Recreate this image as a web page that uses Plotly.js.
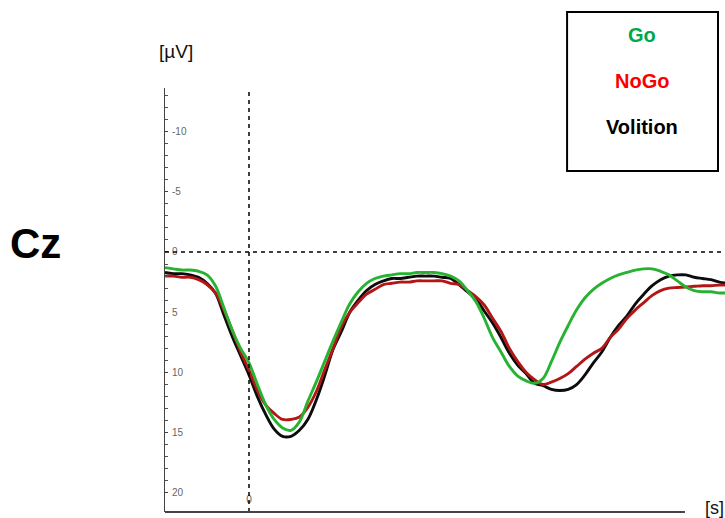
<!DOCTYPE html>
<html>
<head>
<meta charset="utf-8">
<script src="https://cdn.plot.ly/plotly-3.0.1.min.js"></script>
<style>html,body{margin:0;padding:0;background:#fff;}#chart{width:725px;height:518px;}</style>
</head>
<body>
<div id="chart"></div>
<script>
// time in seconds
var time = [-0.20,-0.18,-0.16,-0.14,-0.12,-0.10,-0.08,-0.06,-0.04,-0.02,
  0.00,0.02,0.04,0.06,0.08,0.10,0.12,0.14,0.16,0.18,
  0.20,0.22,0.24,0.26,0.28,0.30,0.32,0.34,0.36,0.38,
  0.40,0.42,0.44,0.46,0.48,0.50,0.52,0.54,0.56,0.58,
  0.60,0.62,0.64,0.66,0.68,0.70,0.72,0.74,0.76,0.78,
  0.80,0.82,0.84,0.86,0.88,0.90,0.92,0.94,0.96,0.98,
  1.00,1.02,1.04,1.06,1.08,1.10,1.12,1.14];

// amplitude in µV (positive plotted downward)
var goValues = [1.3,1.4,1.5,1.5,1.6,1.9,2.8,4.6,6.5,8.0,
  9.2,11.0,12.7,13.9,14.6,14.8,14.1,12.4,10.8,9.1,
  7.4,5.8,4.3,3.3,2.6,2.2,2.0,1.9,1.8,1.8,
  1.7,1.7,1.7,1.8,2.0,2.4,3.2,4.1,5.5,7.1,
  8.3,9.5,10.3,10.7,10.9,10.5,9.1,7.5,6.1,4.8,
  3.8,3.1,2.6,2.2,1.9,1.7,1.5,1.4,1.4,1.6,
  1.9,2.4,2.9,3.2,3.3,3.3,3.4,3.4];

var nogoValues = [2.0,2.0,2.1,2.1,2.3,2.7,3.4,4.8,6.5,8.3,
  9.8,11.5,12.7,13.4,13.9,13.9,13.7,12.9,11.6,9.8,
  8.0,6.2,5.0,4.2,3.5,3.1,2.7,2.6,2.5,2.5,
  2.4,2.4,2.4,2.4,2.6,2.7,3.2,3.7,4.4,5.5,
  6.6,8.0,9.1,10.0,10.6,11.0,10.8,10.5,10.1,9.5,
  8.9,8.4,8.0,7.1,6.4,5.5,4.8,4.2,3.6,3.2,
  3.0,2.95,2.9,2.85,2.8,2.8,2.75,2.75];

var volitionValues = [1.7,1.8,1.8,1.9,2.1,2.6,3.4,5.2,7.0,8.6,
  10.2,12.0,13.5,14.7,15.3,15.3,14.8,13.9,12.3,10.3,
  8.1,6.6,5.0,4.0,3.2,2.7,2.4,2.2,2.2,2.1,
  2.0,2.0,2.0,2.1,2.2,2.7,3.3,3.9,4.9,5.9,
  7.1,8.4,9.4,10.1,10.9,11.1,11.4,11.5,11.4,11.0,
  10.2,9.2,8.3,7.1,6.1,5.3,4.3,3.5,2.8,2.3,
  2.0,1.9,1.9,2.1,2.2,2.3,2.5,2.6];

var yTickVals = [-10,-5,0,5,10,15,20];
var yTickText = ['-10','-5','0','5','10','15','20'];
var xTickVals = [0];
var xTickText = ['0'];
var seriesNames = ['Go','NoGo','Volition'];

var curveColors = {Go:'rgb(40,178,50)', NoGo:'rgb(178,22,22)', Volition:'rgb(12,12,12)'};
var labelColors = {Go:'rgb(0,168,76)', NoGo:'rgb(250,0,0)', Volition:'rgb(0,0,0)'};

function trace(name, vals){
  return {x: time, y: vals, type:'scatter', mode:'lines', name:name,
    line:{color:curveColors[name], width:2.9, shape:'spline', smoothing:1.0},
    showlegend:false, hoverinfo:'skip'};
}
var data = [trace('Volition', volitionValues), trace('NoGo', nogoValues), trace('Go', goValues)];

var xMin = -0.2, xMax = -0.2 + 560/420;
var yTop = -13.61, yBottom = 21.58;
var axisEnd = 1.038;

var annotations = [
  {text:'[µV]', xref:'paper', yref:'paper', x:0.0196, y:1.085, xanchor:'center', yanchor:'middle', showarrow:false,
   font:{family:'Liberation Sans, Arial', size:19, color:'#111'}},
  {text:'<b>Cz</b>', xref:'paper', yref:'paper', x:-0.2804, y:0.634, xanchor:'left', yanchor:'middle', showarrow:false,
   font:{family:'Liberation Sans, Arial', size:42, color:'#000'}},
  {text:'[s]', xref:'paper', yref:'paper', x:0.961, y:0.0094, xanchor:'left', yanchor:'middle', showarrow:false,
   font:{family:'Liberation Sans, Arial', size:18, color:'#111'}}
];
var legendY = [1.125, 1.0165, 0.908];
seriesNames.forEach(function(n, i){
  annotations.push({text:'<b>'+n+'</b>', xref:'paper', yref:'paper', x:0.852, y:legendY[i],
    xanchor:'center', yanchor:'middle', showarrow:false,
    font:{family:'Liberation Sans, Arial', size:20, color:labelColors[n]}});
});

var layout = {
  width:725, height:518, autosize:false,
  margin:{l:165, r:0, t:88, b:6, pad:0},
  paper_bgcolor:'#fff', plot_bgcolor:'#fff',
  showlegend:false,
  xaxis:{range:[xMin, xMax], showgrid:false, zeroline:false, showline:false,
    tickvals:xTickVals, ticktext:xTickText, ticks:'', ticklabelposition:'inside',
    ticklabelstandoff:4,
    tickfont:{family:'Liberation Sans, Arial', size:10, color:'#555'}, fixedrange:true},
  yaxis:{range:[yBottom, yTop], showgrid:false, zeroline:false,
    showline:true, linecolor:'#444', linewidth:1.5, mirror:false,
    tickvals:yTickVals, ticktext:yTickText, ticks:'inside', ticklen:3, tickwidth:1, tickcolor:'#444',
    ticklabelposition:'inside', ticklabelstandoff:3,
    tickfont:{family:'Liberation Sans, Arial', size:10, color:'#666'},
    minor:{dtick:1, tick0:0, ticks:'inside', ticklen:3, tickwidth:1, tickcolor:'#555'},
    fixedrange:true},
  shapes:[
    {type:'line', xref:'x', yref:'y', x0:xMin, x1:xMax, y0:0, y1:0,
     line:{color:'#000', width:1.4, dash:'4px,4px'}},
    {type:'line', xref:'x', yref:'paper', x0:0, x1:0, y0:0, y1:1,
     line:{color:'#000', width:1.5, dash:'4px,4px'}},
    {type:'line', xref:'x', yref:'paper', x0:xMin, x1:axisEnd, y0:0, y1:0,
     line:{color:'#444', width:1.8}},
    {type:'rect', xref:'paper', yref:'paper', x0:0.718, x1:0.9875, y0:0.804, y1:1.179,
     line:{color:'#000', width:2}, fillcolor:'rgba(0,0,0,0)'}
  ],
  annotations:annotations
};

Plotly.newPlot('chart', data, layout, {staticPlot:true, displayModeBar:false});
</script>
</body>
</html>
